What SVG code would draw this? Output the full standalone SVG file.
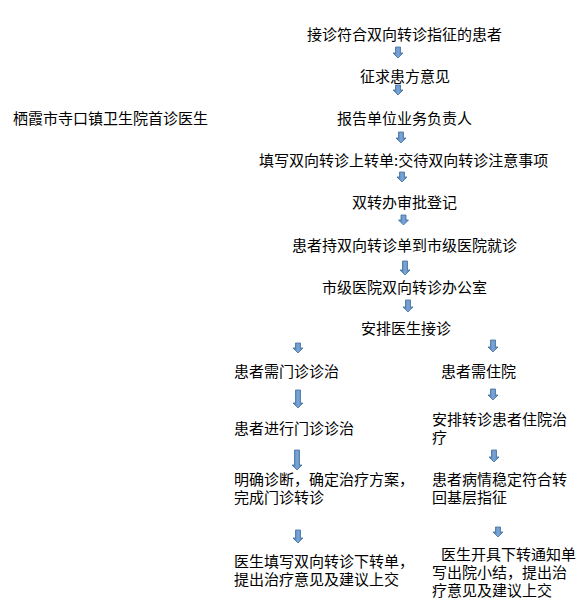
<svg xmlns="http://www.w3.org/2000/svg" width="585" height="614" viewBox="0 0 585 614">
<style>
text{font-family:"Noto Sans CJK SC","Liberation Sans",sans-serif;font-size:15px;fill:#000;}
.arr{fill:url(#ag);stroke:#41719C;stroke-width:0.8;}
</style>
<defs>
<linearGradient id="ag" x1="0" y1="0" x2="1" y2="0">
<stop offset="0" stop-color="#3F73B0"/>
<stop offset="0.5" stop-color="#7EA6D8"/>
<stop offset="1" stop-color="#4A7DBA"/>
</linearGradient>
</defs>
<rect width="585" height="614" fill="#fff"/>
<g id="n0"><text x="13" y="124">栖霞市寺口镇卫生院首诊医生</text></g>
<g id="n1"><text x="307" y="40">接诊符合双向转诊指征的患者</text></g>
<g id="n2"><text x="360" y="82">征求患方意见</text></g>
<g id="n3"><text x="337" y="124">报告单位业务负责人</text></g>
<g id="n4"><text x="259" y="166">填写双向转诊上转单:交待双向转诊注意事项</text></g>
<g id="n5"><text x="352" y="208">双转办审批登记</text></g>
<g id="n6"><text x="292" y="251">患者持双向转诊单到市级医院就诊</text></g>
<g id="n7"><text x="322" y="293">市级医院双向转诊办公室</text></g>
<g id="n8"><text x="361" y="334">安排医生接诊</text></g>
<g id="n9"><text x="234" y="377">患者需门诊诊治</text></g>
<g id="n10"><text x="441" y="377">患者需住院</text></g>
<g id="n11"><text x="234" y="434">患者进行门诊诊治</text></g>
<g id="n12"><text x="432" y="425">安排转诊患者住院治</text><text x="432" y="443">疗</text></g>
<g id="n13"><text x="234" y="485">明确诊断，确定治疗方案，</text><text x="234" y="503">完成门诊转诊</text></g>
<g id="n14"><text x="432" y="485">患者病情稳定符合转</text><text x="432" y="503">回基层指征</text></g>
<g id="n15"><text x="234" y="567">医生填写双向转诊下转单，</text><text x="234" y="585">提出治疗意见及建议上交</text></g>
<g id="n16"><text x="441" y="560">医生开具下转通知单</text><text x="432" y="578">写出院小结，提出治</text><text x="432" y="596">疗意见及建议上交</text></g>
<g id="connectors">
<path class="arr" d="M395.5,47 h5 v6 h2.5 l-5,5 l-5,-5 h2.5 z"/>
<path class="arr" d="M395.5,85 h5 v5 h2.5 l-5,5 l-5,-5 h2.5 z"/>
<path class="arr" d="M398.5,132 h5 v6 h2.5 l-5,5 l-5,-5 h2.5 z"/>
<path class="arr" d="M399.5,172 h5 v5 h2.5 l-5,5 l-5,-5 h2.5 z"/>
<path class="arr" d="M401,215 h5 v5 h2.5 l-5,5 l-5,-5 h2.5 z"/>
<path class="arr" d="M402.5,261 h5 v9 h2.5 l-5,5 l-5,-5 h2.5 z"/>
<path class="arr" d="M405.5,300 h5 v7 h2.5 l-5,5 l-5,-5 h2.5 z"/>
<path class="arr" d="M295.5,343 h5 v5 h2.5 l-5,5 l-5,-5 h2.5 z"/>
<path class="arr" d="M490.5,340 h5 v7 h2.5 l-5,5 l-5,-5 h2.5 z"/>
<path class="arr" d="M295.5,390 h5 v13 h2.5 l-5,5 l-5,-5 h2.5 z"/>
<path class="arr" d="M490.5,389 h5 v6 h2.5 l-5,5 l-5,-5 h2.5 z"/>
<path class="arr" d="M294.5,450 h5 v15 h2.5 l-5,5 l-5,-5 h2.5 z"/>
<path class="arr" d="M491.5,450 h5 v7 h2.5 l-5,5 l-5,-5 h2.5 z"/>
<path class="arr" d="M295.5,530 h5 v8 h2.5 l-5,5 l-5,-5 h2.5 z"/>
<path class="arr" d="M495.5,527 h5 v5 h2.5 l-5,5 l-5,-5 h2.5 z"/>
</g>
</svg>
